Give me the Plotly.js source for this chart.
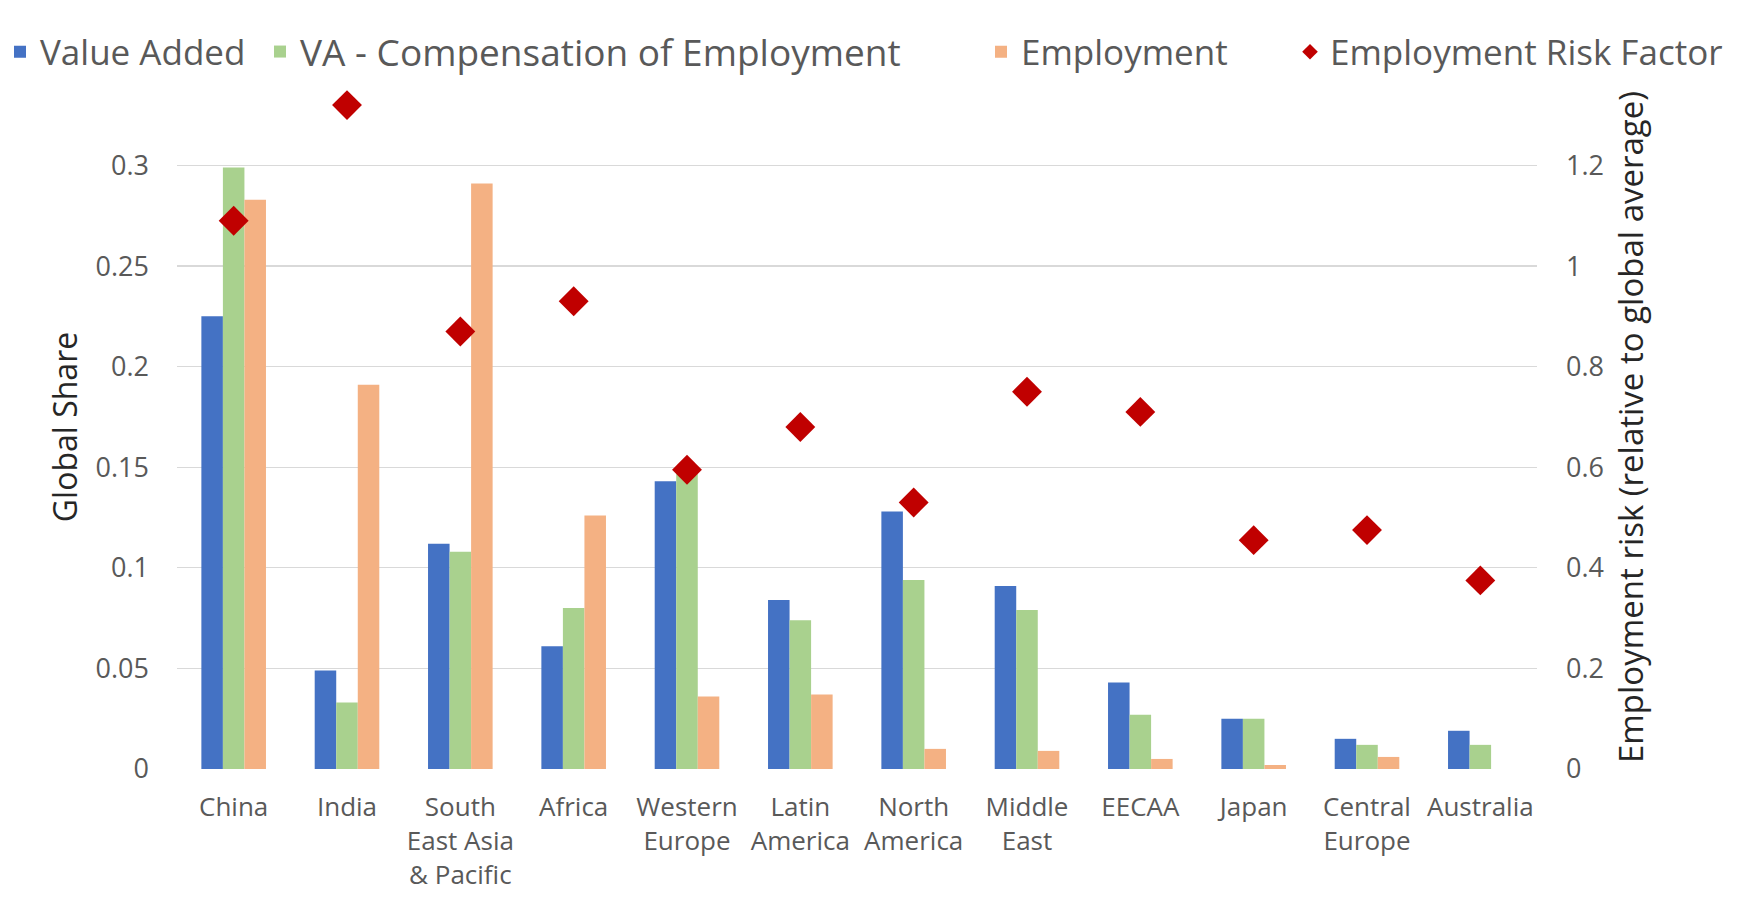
<!DOCTYPE html>
<html>
<head>
<meta charset="utf-8">
<script src="https://cdn.plot.ly/plotly-3.0.1.min.js"></script>
<style>
  html, body { margin: 0; padding: 0; background: #ffffff; }
  #chart { width: 1738px; height: 900px; }
</style>
</head>
<body>
<div id="chart"></div>
<script>
// ---- Data ----
const categories = ["China", "India", "South<br>East Asia<br>& Pacific", "Africa", "Western<br>Europe",
  "Latin<br>America", "North<br>America", "Middle<br>East", "EECAA", "Japan", "Central<br>Europe", "Australia"];
const valueAdded = [0.225, 0.049, 0.112, 0.061, 0.143, 0.084, 0.128, 0.091, 0.043, 0.025, 0.015, 0.019];
const vaCompensation = [0.299, 0.033, 0.108, 0.080, 0.147, 0.074, 0.094, 0.079, 0.027, 0.025, 0.012, 0.012];
const employment = [0.283, 0.191, 0.291, 0.126, 0.036, 0.037, 0.010, 0.009, 0.005, 0.002, 0.006, 0.000];
const riskFactor = [1.09, 1.32, 0.87, 0.93, 0.595, 0.68, 0.53, 0.75, 0.71, 0.455, 0.475, 0.375];

const seriesNames = ["Value Added", "VA - Compensation of Employment", "Employment", "Employment Risk Factor"];
const leftTickVals = [0, 0.05, 0.1, 0.15, 0.2, 0.25, 0.3];
const leftTickText = ["0", "0.05", "0.1", "0.15", "0.2", "0.25", "0.3"];
const rightTickVals = [0, 0.2, 0.4, 0.6, 0.8, 1.0, 1.2];
const rightTickText = ["0", "0.2", "0.4", "0.6", "0.8", "1", "1.2"];

const FONT = "Open Sans, Noto Sans, sans-serif";
const W = 1738, H = 900;
const Y_TOP = 0.34;          // headroom above the 0.3 gridline for the India marker
const RIGHT_SCALE = 4;       // right axis 0..1.2 aligned with left 0..0.3

const traces = [
  { type: "bar", name: seriesNames[0], x: categories, y: valueAdded,
    marker: { color: "#4472C4" }, legend: "legend", hoverinfo: "x+y" },
  { type: "bar", name: seriesNames[1], x: categories, y: vaCompensation,
    marker: { color: "#A9D18E" }, legend: "legend2", hoverinfo: "x+y" },
  { type: "bar", name: seriesNames[2], x: categories, y: employment,
    marker: { color: "#F4B183" }, legend: "legend3", hoverinfo: "x+y" },
  { type: "scatter", mode: "markers", name: seriesNames[3], x: categories, y: riskFactor,
    yaxis: "y2", cliponaxis: false,
    marker: { symbol: "diamond", size: 23, color: "#C00000" }, legend: "legend4", hoverinfo: "x+y" }
];

function legendAt(textStartPx, size) {
  return {
    orientation: "h", xref: "container", yref: "container",
    x: Math.max(0, (textStartPx - 40) / W), y: 1 - 52 / H, xanchor: "left", yanchor: "middle",
    font: { family: FONT, size: size || 35, color: "#595959" },
    bgcolor: "rgba(0,0,0,0)", itemsizing: "constant"
  };
}

const layout = {
  width: W, height: H,
  paper_bgcolor: "#ffffff", plot_bgcolor: "#ffffff",
  margin: { l: 177, r: 201, t: 84.5, b: 131, pad: 0, autoexpand: false },
  font: { family: FONT, color: "#595959" },
  barmode: "group", bargap: 0.43, bargroupgap: 0,
  showlegend: true,
  legend: legendAt(30),
  legend2: legendAt(300, 37),
  legend3: legendAt(1021),
  legend4: legendAt(1330),
  xaxis: {
    type: "category", range: [-0.5, categories.length - 0.5],
    showgrid: false, showline: false, zeroline: false,
    ticks: "", ticklabelstandoff: 20,
    tickfont: { family: FONT, size: 26, color: "#595959" },
    automargin: false
  },
  yaxis: {
    range: [0, Y_TOP], tickvals: leftTickVals, ticktext: leftTickText,
    showgrid: true, gridcolor: "#D9D9D9", gridwidth: 1.3,
    zeroline: false, showline: false, ticks: "", ticklabelstandoff: 27,
    tickfont: { family: FONT, size: 27, color: "#595959" },
    title: { text: "Global Share", font: { family: FONT, size: 32, color: "#262626" }, standoff: 8 },
    automargin: false
  },
  yaxis2: {
    overlaying: "y", side: "right", range: [0, Y_TOP * RIGHT_SCALE],
    tickvals: rightTickVals, ticktext: rightTickText,
    showgrid: false, zeroline: false, showline: false, ticks: "", ticklabelstandoff: 28,
    tickfont: { family: FONT, size: 27, color: "#595959" },
    title: { text: "Employment risk (relative to global average)", font: { family: FONT, size: 33, color: "#262626" }, standoff: 16 },
    automargin: false
  }
};

Plotly.newPlot("chart", traces, layout, { displayModeBar: false, staticPlot: true });
</script>
</body>
</html>
